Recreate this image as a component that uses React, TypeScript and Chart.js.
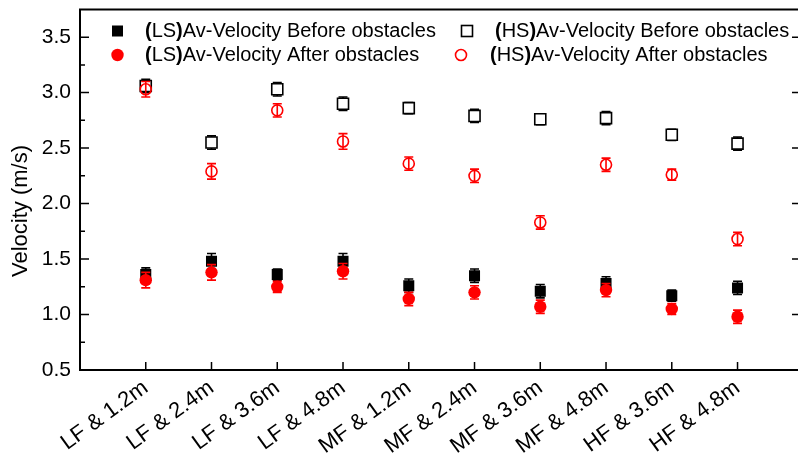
import React, { useEffect, useRef } from "react";
import { Chart, registerables } from "chart.js";

Chart.register(...registerables);

const FONT = "'Liberation Sans', Arial, sans-serif";

const categories = [
  "LF & 1.2m", "LF & 2.4m", "LF & 3.6m", "LF & 4.8m", "MF & 1.2m",
  "MF & 2.4m", "MF & 3.6m", "MF & 4.8m", "HF & 3.6m", "HF & 4.8m",
];

const lsBefore = [1.36, 1.48, 1.36, 1.48, 1.26, 1.35, 1.21, 1.28, 1.17, 1.24];
const lsBeforeErr = [0.06, 0.07, 0.05, 0.07, 0.06, 0.06, 0.06, 0.06, 0.05, 0.06];
const lsAfter = [1.31, 1.38, 1.25, 1.39, 1.14, 1.20, 1.07, 1.22, 1.05, 0.98];
const lsAfterErr = [0.07, 0.07, 0.05, 0.07, 0.06, 0.06, 0.06, 0.06, 0.05, 0.06];
const hsBefore = [3.06, 2.55, 3.03, 2.90, 2.86, 2.79, 2.76, 2.77, 2.62, 2.54];
const hsBeforeErr = [0.06, 0.06, 0.06, 0.06, 0.05, 0.06, 0.05, 0.06, 0.05, 0.06];
const hsAfter = [3.03, 2.29, 2.84, 2.56, 2.36, 2.25, 1.83, 2.35, 2.26, 1.68];
const hsAfterErr = [0.07, 0.07, 0.06, 0.07, 0.06, 0.06, 0.06, 0.06, 0.05, 0.06];

const yMin = 0.5;
const yMax = 3.75;
const yMajorTicks = [0.5, 1.0, 1.5, 2.0, 2.5, 3.0, 3.5];
const yMinorTicks = [0.75, 1.25, 1.75, 2.25, 2.75, 3.25];

const legendLabels = [
  ["LS", "Av-Velocity Before obstacles"],
  ["HS", "Av-Velocity Before obstacles"],
  ["LS", "Av-Velocity After obstacles"],
  ["HS", "Av-Velocity After obstacles"],
];

const errorSets = [lsBeforeErr, hsBeforeErr, lsAfterErr, hsAfterErr];
const errorColors = ["#000000", "#000000", "#ff0000", "#ff0000"];

const toPoints = (vals: number[]) => vals.map((v, i) => ({ x: i + 1, y: v }));

const errorBarPlugin = {
  id: "errorBars",
  beforeDatasetDraw(chart: any, args: any) {
    const idx = args.index;
    const errs = errorSets[idx];
    const ds = chart.data.datasets[idx];
    const xs = chart.scales.x;
    const ys = chart.scales.y;
    const ctx = chart.ctx;
    ctx.save();
    ctx.strokeStyle = errorColors[idx];
    ctx.lineWidth = 1.6;
    ds.data.forEach((p: any, i: number) => {
      const x = xs.getPixelForValue(p.x);
      const yt = ys.getPixelForValue(p.y + errs[i]);
      const yb = ys.getPixelForValue(p.y - errs[i]);
      ctx.beginPath();
      ctx.moveTo(x, yt);
      ctx.lineTo(x, yb);
      ctx.moveTo(x - 4.5, yt);
      ctx.lineTo(x + 4.5, yt);
      ctx.moveTo(x - 4.5, yb);
      ctx.lineTo(x + 4.5, yb);
      ctx.stroke();
    });
    ctx.restore();
  },
};

const framePlugin = {
  id: "frame",
  afterDraw(chart: any) {
    const ctx = chart.ctx;
    const { left, right, top, bottom } = chart.chartArea;
    const xs = chart.scales.x;
    const ys = chart.scales.y;
    ctx.save();
    ctx.strokeStyle = "#000";
    ctx.lineWidth = 2;
    ctx.beginPath();
    ctx.moveTo(left, top);
    ctx.lineTo(right, top);
    ctx.lineTo(right, bottom);
    ctx.lineTo(left, bottom);
    ctx.closePath();
    ctx.stroke();
    ctx.lineWidth = 1.5;
    ctx.beginPath();
    yMajorTicks.forEach((v) => {
      const y = ys.getPixelForValue(v);
      ctx.moveTo(left, y);
      ctx.lineTo(left + 9, y);
      ctx.moveTo(right, y);
      ctx.lineTo(right - 8, y);
    });
    yMinorTicks.forEach((v) => {
      const y = ys.getPixelForValue(v);
      ctx.moveTo(left, y);
      ctx.lineTo(left + 5, y);
    });
    categories.forEach((_, i) => {
      const x = xs.getPixelForValue(i + 1);
      ctx.moveTo(x, bottom);
      ctx.lineTo(x, bottom - 8);
    });
    ctx.stroke();

    // Y axis title
    ctx.fillStyle = "#000";
    ctx.font = `22px ${FONT}`;
    ctx.textAlign = "center";
    ctx.textBaseline = "middle";
    ctx.translate(21, 211);
    ctx.rotate(-Math.PI / 2);
    ctx.fillText("Velocity (m/s)", 0, 0);
    ctx.restore();

    // Legend
    const drawLabel = (x: number, y: number, tag: string, rest: string) => {
      ctx.save();
      ctx.fillStyle = "#000";
      ctx.textAlign = "left";
      ctx.textBaseline = "middle";
      let cx = x;
      ctx.font = `bold 20px ${FONT}`;
      ctx.fillText("(", cx, y);
      cx += ctx.measureText("(").width;
      ctx.font = `20px ${FONT}`;
      ctx.fillText(tag, cx, y);
      cx += ctx.measureText(tag).width;
      ctx.font = `bold 20px ${FONT}`;
      ctx.fillText(")", cx, y);
      cx += ctx.measureText(")").width;
      ctx.font = `20px ${FONT}`;
      ctx.fillText(rest, cx, y);
      ctx.restore();
    };
    ctx.save();
    ctx.fillStyle = "#000";
    ctx.fillRect(112, 25.5, 11, 11);
    ctx.strokeStyle = "#000";
    ctx.lineWidth = 1.6;
    ctx.strokeRect(461.5, 25.5, 11, 11);
    ctx.fillStyle = "#ff0000";
    ctx.beginPath();
    ctx.arc(117.5, 55, 6.2, 0, Math.PI * 2);
    ctx.fill();
    ctx.strokeStyle = "#ff0000";
    ctx.beginPath();
    ctx.arc(461, 55, 5.5, 0, Math.PI * 2);
    ctx.stroke();
    ctx.restore();
    drawLabel(145, 31, legendLabels[0][0], legendLabels[0][1]);
    drawLabel(495, 31, legendLabels[1][0], legendLabels[1][1]);
    drawLabel(145, 55, legendLabels[2][0], legendLabels[2][1]);
    drawLabel(490, 55, legendLabels[3][0], legendLabels[3][1]);
  },
};

export default function App() {
  const canvasRef = useRef<HTMLCanvasElement | null>(null);

  useEffect(() => {
    if (!canvasRef.current) return;
    const chart = new Chart(canvasRef.current, {
      type: "scatter",
      data: {
        datasets: [
          {
            label: "(LS)Av-Velocity Before obstacles",
            data: toPoints(lsBefore),
            pointStyle: "rect",
            pointRadius: 7.8,
            backgroundColor: "#000000",
            borderColor: "#000000",
            borderWidth: 0,
            order: 4,
          },
          {
            label: "(HS)Av-Velocity Before obstacles",
            data: toPoints(hsBefore),
            pointStyle: "rect",
            pointRadius: 7.8,
            backgroundColor: "#ffffff",
            borderColor: "#000000",
            borderWidth: 1.6,
            order: 3,
          },
          {
            label: "(LS)Av-Velocity After obstacles",
            data: toPoints(lsAfter),
            pointStyle: "circle",
            pointRadius: 6.2,
            backgroundColor: "#ff0000",
            borderColor: "#ff0000",
            borderWidth: 0,
            order: 2,
          },
          {
            label: "(HS)Av-Velocity After obstacles",
            data: toPoints(hsAfter),
            pointStyle: "circle",
            pointRadius: 5.5,
            backgroundColor: "rgba(255,255,255,0)",
            borderColor: "#ff0000",
            borderWidth: 1.6,
            order: 1,
          },
        ],
      },
      options: {
        animation: false,
        responsive: true,
        maintainAspectRatio: false,
        layout: { padding: { top: 7, right: 10, left: 0, bottom: 0 } },
        plugins: {
          legend: { display: false },
          tooltip: { enabled: false },
        },
        scales: {
          x: {
            type: "linear",
            min: 0,
            max: 10.95,
            grid: { display: false, drawTicks: false },
            border: { display: false },
            afterBuildTicks: (s: any) => {
              s.ticks = categories.map((_, i) => ({ value: i + 1 }));
            },
            afterFit: (s: any) => {
              s.height = 88;
              s.paddingLeft = 0;
              s.paddingRight = 0;
            },
            ticks: {
              autoSkip: false,
              minRotation: 36,
              maxRotation: 36,
              padding: 5,
              color: "#000",
              font: { family: FONT, size: 22 },
              callback: (v: any) => categories[Math.round(Number(v)) - 1] ?? "",
            },
          },
          y: {
            type: "linear",
            min: yMin,
            max: yMax,
            grid: { display: false, drawTicks: false },
            border: { display: false },
            afterBuildTicks: (s: any) => {
              s.ticks = yMajorTicks.map((v) => ({ value: v }));
            },
            afterFit: (s: any) => {
              s.width = 80;
              s.paddingTop = 0;
              s.paddingBottom = 0;
            },
            ticks: {
              padding: 9,
              color: "#000",
              font: { family: FONT, size: 21 },
              callback: (v: any) => Number(v).toFixed(1),
            },
          },
        },
      },
      plugins: [errorBarPlugin, framePlugin],
    });
    return () => chart.destroy();
  }, []);

  return (
    <div
      style={{
        position: "fixed",
        left: 0,
        top: 0,
        width: 798,
        height: 458,
        overflow: "hidden",
        background: "#fff",
      }}
    >
      <div style={{ position: "relative", width: 810, height: 458 }}>
        <canvas ref={canvasRef} />
      </div>
    </div>
  );
}
